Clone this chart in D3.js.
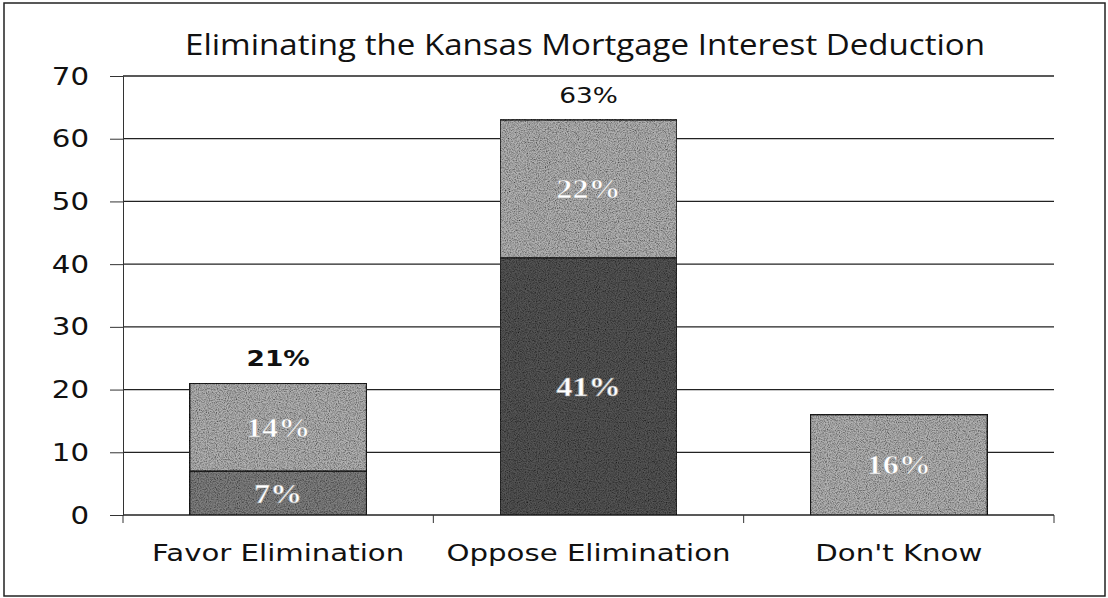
<!DOCTYPE html>
<html>
<head>
<meta charset="utf-8">
<script src="https://cdn.jsdelivr.net/npm/d3@7"></script>
<style>
  body { margin: 0; background: #fff; }
</style>
</head>
<body>
<div id="chart"></div>
<script>
// data
var categories = ["Favor Elimination", "Oppose Elimination", "Don't Know"];
var strongly = [7, 41, 0];      // dark lower segment
var somewhat = [14, 22, 16];    // light upper segment
var totals = ["21%", "63%", null];
var yTicks = [0, 10, 20, 30, 40, 50, 60, 70];

// layout
var W = 1108, H = 598;
var margin = { top: 76, right: 54, bottom: 83, left: 123 };
var width = W - margin.left - margin.right;
var height = H - margin.top - margin.bottom;

// the scan is wider than it is tall: stretch text sideways
function stretch(sel, k) {
  sel.each(function() {
    var len = this.getComputedTextLength();
    d3.select(this)
      .attr("textLength", len * k)
      .attr("lengthAdjust", "spacingAndGlyphs");
  });
}

var svg = d3.select("#chart").append("svg")
  .attr("width", W)
  .attr("height", H);

// grainy fill, like the scanned print
var defs = svg.append("defs");
var f = defs.append("filter").attr("id", "grain").attr("x", 0).attr("y", 0).attr("width", 1).attr("height", 1);
f.append("feTurbulence").attr("type", "fractalNoise").attr("baseFrequency", 0.9).attr("numOctaves", 2).attr("seed", 3).attr("result", "noise");
f.append("feColorMatrix").attr("in", "noise").attr("type", "matrix")
  .attr("values", "0 0 0 0 0  0 0 0 0 0  0 0 0 0 0  0 0 0 -1.6 1.05").attr("result", "dots");
f.append("feComposite").attr("in", "dots").attr("in2", "SourceGraphic").attr("operator", "in").attr("result", "dots2");
f.append("feMerge").call(function(m) {
  m.append("feMergeNode").attr("in", "SourceGraphic");
  m.append("feMergeNode").attr("in", "dots2");
});

// outer frame
svg.append("rect")
  .attr("x", 4).attr("y", 3)
  .attr("width", 1101).attr("height", 593)
  .attr("fill", "#fff")
  .attr("stroke", "#222")
  .attr("stroke-width", 1.5);

// title
svg.append("text")
  .attr("x", 585)
  .attr("y", 55)
  .attr("text-anchor", "middle")
  .attr("textLength", 800)
  .attr("lengthAdjust", "spacingAndGlyphs")
  .style("font-family", "'Open Sans', sans-serif")
  .style("font-size", "29px")
  .style("fill", "#111")
  .text("Eliminating the Kansas Mortgage Interest Deduction");

var g = svg.append("g")
  .attr("transform", "translate(" + margin.left + "," + margin.top + ")");

var x = d3.scaleBand()
  .domain(categories)
  .range([0, width])
  .paddingInner(0.43)
  .paddingOuter(0.215);

var y = d3.scaleLinear()
  .domain([0, 70])
  .range([height, 0]);

// gridlines
g.append("g")
  .selectAll("line")
  .data(yTicks)
  .join("line")
  .attr("x1", 0)
  .attr("x2", width)
  .attr("y1", function(d) { return y(d); })
  .attr("y2", function(d) { return y(d); })
  .attr("stroke", "#222")
  .attr("stroke-width", 1.3);

// y axis
var yAxis = g.append("g")
  .call(d3.axisLeft(y).tickValues(yTicks).tickSize(13).tickPadding(21));
yAxis.select(".domain").attr("stroke", "#333");
yAxis.selectAll("line").attr("stroke", "#333");
yAxis.selectAll("text")
  .style("font-family", "'DejaVu Sans', Verdana, sans-serif")
  .style("font-size", "25px")
  .style("fill", "#111")
  .call(stretch, 1.17);

// x axis with ticks at category boundaries
var xAxis = g.append("g")
  .attr("transform", "translate(0," + height + ")")
  .call(d3.axisBottom(x).tickSize(0).tickPadding(30));
xAxis.select(".domain").remove();
xAxis.selectAll("text")
  .style("font-family", "'DejaVu Sans', Verdana, sans-serif")
  .style("font-size", "23px")
  .style("fill", "#111")
  .call(stretch, 1.27);
var step = x.step();
g.append("g")
  .selectAll("line")
  .data(d3.range(categories.length + 1))
  .join("line")
  .attr("x1", function(i) { return x(categories[0]) - x.paddingOuter() * step + i * step; })
  .attr("x2", function(i) { return x(categories[0]) - x.paddingOuter() * step + i * step; })
  .attr("y1", height)
  .attr("y2", height + 8)
  .attr("stroke", "#333");

// stacked bars
var darkFill = ["#808080", "#555555", "#555555"];
var lightFill = "#b2b2b2";

var bars = g.append("g").selectAll("g")
  .data(categories)
  .join("g");

bars.append("rect")
  .filter(function(d, i) { return strongly[i] > 0; })
  .attr("x", function(d) { return x(d); })
  .attr("width", x.bandwidth())
  .attr("y", function(d) { var i = categories.indexOf(d); return y(strongly[i]); })
  .attr("height", function(d) { var i = categories.indexOf(d); return y(0) - y(strongly[i]); })
  .attr("fill", function(d) { return darkFill[categories.indexOf(d)]; })
  .attr("stroke", "#222")
  .attr("stroke-width", 1.5)
  .attr("filter", "url(#grain)");

bars.append("rect")
  .attr("x", function(d) { return x(d); })
  .attr("width", x.bandwidth())
  .attr("y", function(d) { var i = categories.indexOf(d); return y(strongly[i] + somewhat[i]); })
  .attr("height", function(d) { var i = categories.indexOf(d); return y(strongly[i]) - y(strongly[i] + somewhat[i]); })
  .attr("fill", lightFill)
  .attr("stroke", "#222")
  .attr("stroke-width", 1.5)
  .attr("filter", "url(#grain)");

// white labels inside segments
var inner = [];
categories.forEach(function(c, i) {
  if (strongly[i] > 0) inner.push({ c: c, mid: strongly[i] / 2, v: strongly[i] });
  inner.push({ c: c, mid: strongly[i] + somewhat[i] / 2, v: somewhat[i] });
});
g.append("g").selectAll("text")
  .data(inner)
  .join("text")
  .attr("x", function(d) { return x(d.c) + x.bandwidth() / 2; })
  .attr("y", function(d) { return y(d.mid); })
  .attr("dy", "0.34em")
  .attr("text-anchor", "middle")
  .style("font-family", "'Liberation Serif', 'DejaVu Serif', serif")
  .style("font-weight", "bold")
  .style("font-size", "28px")
  .style("fill", "#fff")
  .style("stroke", "#999")
  .style("stroke-width", "0.6px")
  .text(function(d) { return d.v + "%"; })
  .call(stretch, 1.15);

// totals above bars
g.append("g").selectAll("text")
  .data(categories.filter(function(c, i) { return totals[i]; }))
  .join("text")
  .attr("x", function(d) { return x(d) + x.bandwidth() / 2; })
  .attr("y", function(d) { var i = categories.indexOf(d); return y(strongly[i] + somewhat[i]) - 17; })
  .attr("text-anchor", "middle")
  .style("font-family", "'DejaVu Sans', Verdana, sans-serif")
  .style("font-size", "22px")
  .style("font-weight", function(d) { return categories.indexOf(d) === 0 ? "bold" : "normal"; })
  .style("fill", "#111")
  .text(function(d) { return totals[categories.indexOf(d)]; })
  .call(stretch, 1.2);
</script>
</body>
</html>
